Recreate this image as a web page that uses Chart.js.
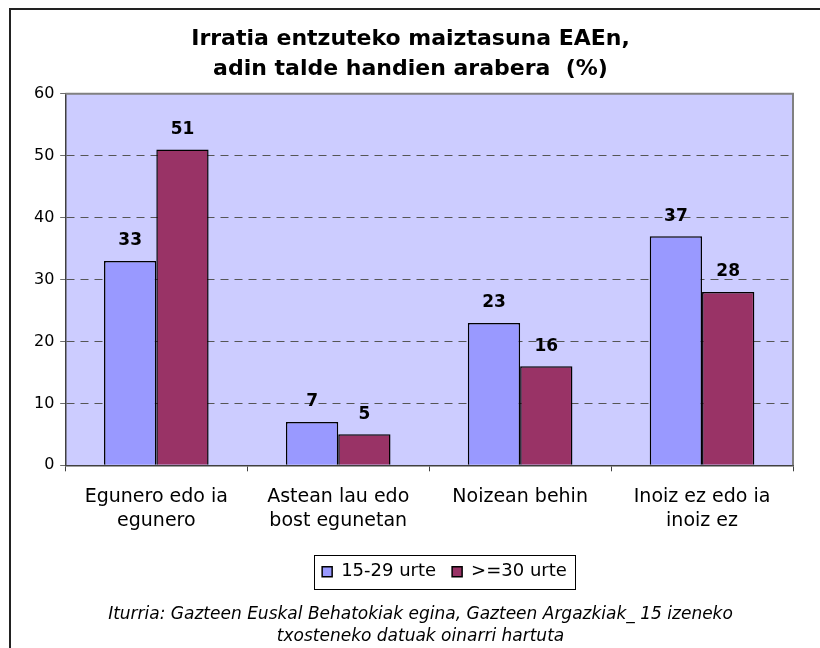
<!DOCTYPE html>
<html>
<head>
<meta charset="utf-8">
<script src="https://cdn.jsdelivr.net/npm/chart.js@4"></script>
<style>
  html, body { margin: 0; padding: 0; background: #fff; }
  #wrap { width: 820px; height: 648px; position: relative; }
</style>
</head>
<body>
<div id="wrap"><canvas id="radioChart"></canvas></div>
<script>
// ========== datuak ==========
const categories = [
    ['Egunero edo ia', 'egunero'],
    ['Astean lau edo', 'bost egunetan'],
    ['Noizean behin'],
    ['Inoiz ez edo ia', 'inoiz ez']
];
const seriesNames = ['15-29 urte', '>=30 urte'];
const youngValues = [33, 7, 23, 37];
const olderValues = [51, 5, 16, 28];
const yMin = 0, yMax = 60, yStep = 10;

const titleLines = ['Irratia entzuteko maiztasuna EAEn,', 'adin talde handien arabera  (%)'];
const sourceLines = [
    'Iturria: Gazteen Euskal Behatokiak egina, Gazteen Argazkiak_ 15 izeneko',
    'txosteneko datuak oinarri hartuta'
];

const FONT = "'DejaVu Sans', Verdana, sans-serif";

// plot area background + border lines
const plotBgPlugin = {
    id: 'plotBg',
    beforeDraw(chart) {
        const { ctx, chartArea: { left, top, right, bottom } } = chart;
        ctx.save();
        ctx.fillStyle = '#CCCCFF';
        ctx.fillRect(left, top, right - left, bottom - top);
        ctx.restore();
    },
    afterDatasetsDraw(chart) {
        const { ctx, chartArea: { left, top, right, bottom } } = chart;
        ctx.save();
        ctx.strokeStyle = '#808080';
        ctx.lineWidth = 2;
        ctx.beginPath();
        ctx.moveTo(left, top);
        ctx.lineTo(right, top);
        ctx.lineTo(right, bottom);
        ctx.stroke();
        ctx.restore();
    }
};

// value labels above bars
const valueLabelPlugin = {
    id: 'valueLabels',
    afterDatasetsDraw(chart) {
        const { ctx } = chart;
        ctx.save();
        ctx.font = 'bold 17px ' + FONT;
        ctx.fillStyle = '#000';
        ctx.textAlign = 'center';
        ctx.textBaseline = 'middle';
        chart.data.datasets.forEach((ds, i) => {
            chart.getDatasetMeta(i).data.forEach((bar, j) => {
                ctx.fillText(String(ds.data[j]), bar.x, bar.y - 20);
            });
        });
        ctx.restore();
    }
};

// legend and source text sit a bit right of centre in the original
const shiftPlugin = {
    id: 'shiftBoxes',
    afterLayout(chart) {
        const lg = chart.legend;
        const dx = 34;
        lg.left += dx;
        lg.right += dx;
        lg.legendHitBoxes.forEach(b => { b.left += dx; });
        const st = chart.boxes.find(b => b.options && b.options.text === sourceLines);
        if (st) {
            st.left += 10;
            st.right += 10;
        }
    }
};

// legend frame + outer chart frame
const framePlugin = {
    id: 'frames',
    afterDraw(chart) {
        const { ctx } = chart;
        const boxes = chart.legend.legendHitBoxes;
        ctx.save();
        if (boxes && boxes.length) {
            const l = Math.min(...boxes.map(b => b.left)) - 8;
            const r = Math.max(...boxes.map(b => b.left + b.width)) + 8;
            const t = Math.min(...boxes.map(b => b.top)) - 8;
            const b = Math.max(...boxes.map(b => b.top + b.height)) + 8;
            ctx.strokeStyle = '#000';
            ctx.lineWidth = 1;
            ctx.strokeRect(Math.round(l) + 0.5, Math.round(t) + 0.5, Math.round(r - l), Math.round(b - t));
        }
        ctx.strokeStyle = '#222';
        ctx.lineWidth = 2;
        ctx.beginPath();
        ctx.moveTo(10, 648);
        ctx.lineTo(10, 9);
        ctx.lineTo(820, 9);
        ctx.stroke();
        ctx.restore();
    }
};

const ctx = document.getElementById('radioChart').getContext('2d');
const radioChart = new Chart(ctx, {
    type: 'bar',
    data: {
        labels: categories,
        datasets: [
            {
                label: seriesNames[0],
                data: youngValues,
                backgroundColor: '#9999FF',
                borderColor: '#000',
                borderWidth: 1.5
            },
            {
                label: seriesNames[1],
                data: olderValues,
                backgroundColor: '#993366',
                borderColor: '#000',
                borderWidth: 1.5
            }
        ]
    },
    options: {
        responsive: true,
        maintainAspectRatio: false,
        animation: false,
        categoryPercentage: 0.575,
        barPercentage: 1,
        layout: {
            padding: { left: 28, right: 27, top: 24, bottom: 0 }
        },
        plugins: {
            title: {
                display: true,
                text: titleLines,
                color: '#000',
                font: { family: FONT, size: 22, weight: 'bold', lineHeight: 1.36 },
                padding: { top: 0, bottom: 10 }
            },
            subtitle: {
                display: true,
                position: 'bottom',
                text: sourceLines,
                color: '#000',
                font: { family: FONT, size: 17, style: 'italic', lineHeight: 1.3 },
                padding: { top: 13, bottom: 0 }
            },
            legend: {
                display: true,
                position: 'bottom',
                labels: {
                    color: '#000',
                    font: { family: FONT, size: 18 },
                    boxWidth: 10,
                    boxHeight: 10,
                    padding: 16,
                    useBorderRadius: false
                }
            },
            tooltip: { enabled: false }
        },
        scales: {
            x: {
                offset: true,
                grid: {
                    offset: true,
                    drawOnChartArea: false,
                    drawTicks: true,
                    tickLength: 6,
                    tickColor: '#404040',
                    tickWidth: 1
                },
                border: { display: true, color: '#404040', width: 1.5 },
                ticks: {
                    color: '#000',
                    font: { family: FONT, size: 19, lineHeight: 1.25 },
                    padding: 14,
                    maxRotation: 0,
                    autoSkip: false
                }
            },
            y: {
                min: yMin,
                max: yMax,
                ticks: {
                    stepSize: yStep,
                    color: '#000',
                    font: { family: FONT, size: 16 },
                    padding: 6
                },
                grid: {
                    color: '#555',
                    lineWidth: 1,
                    tickBorderDash: [1, 0],
                    tickColor: '#404040',
                    tickLength: 5
                },
                border: { display: true, color: '#404040', width: 1.5, dash: [8, 6] }
            }
        }
    },
    plugins: [plotBgPlugin, valueLabelPlugin, shiftPlugin, framePlugin]
});
</script>
</body>
</html>
